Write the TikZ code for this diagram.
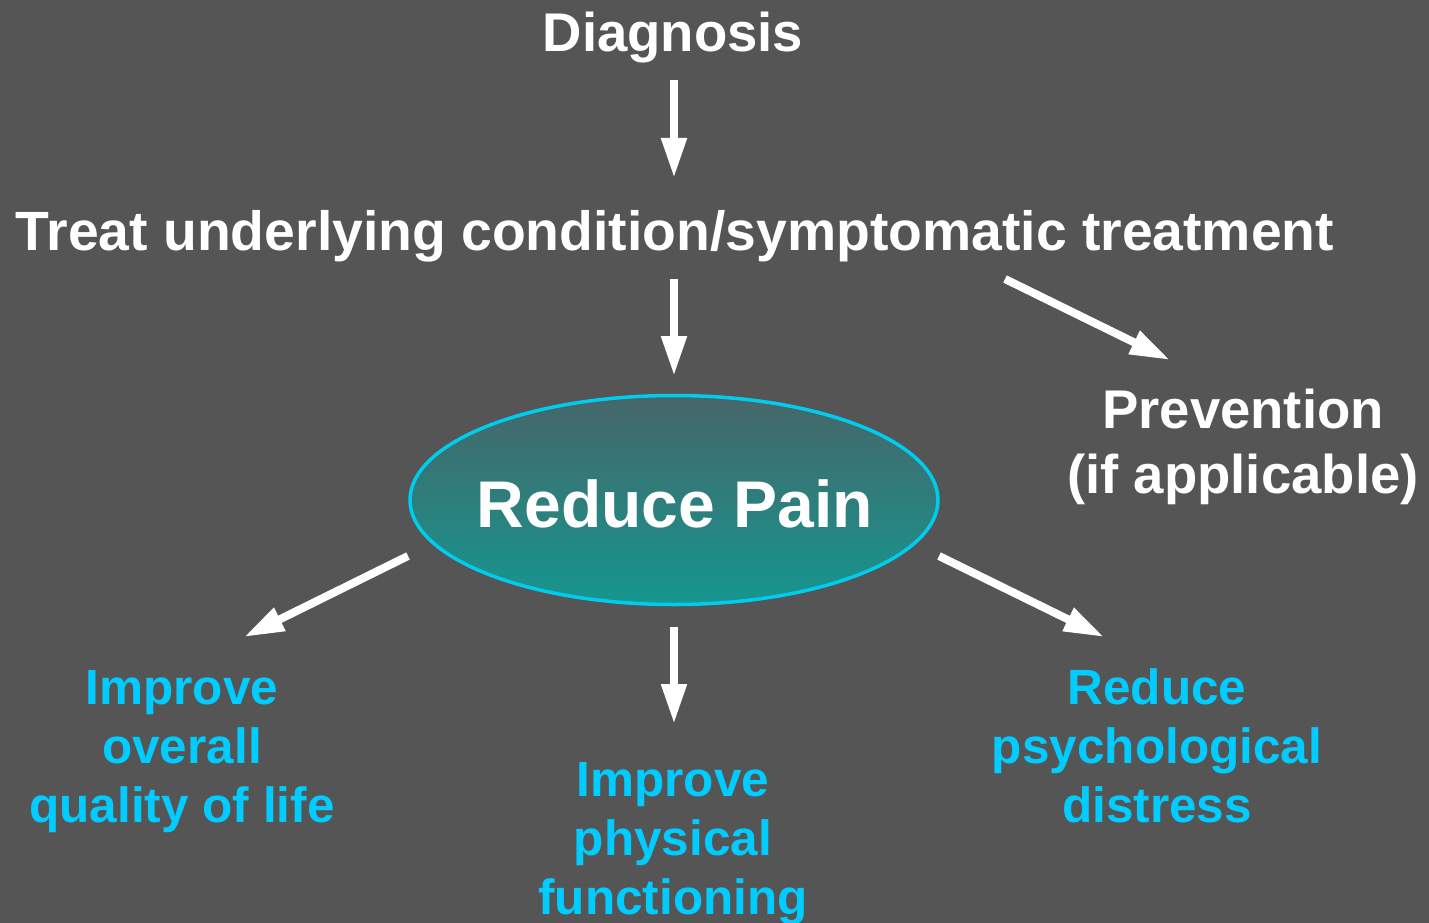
\documentclass[tikz,border=0pt]{standalone}
\usepackage{fontspec}
\setmainfont{Liberation Sans}
\usetikzlibrary{arrows.meta,shapes.geometric}
\definecolor{bg}{HTML}{555555}
\definecolor{cyanblue}{HTML}{00CCFF}
\definecolor{rimcol}{HTML}{00CCEE}
\definecolor{elltop}{HTML}{466669}
\definecolor{ellbot}{HTML}{16968F}
\tikzset{
  whitetext/.style={text=white, font=\fontsize{54.5}{65}\selectfont\bfseries, align=center, inner sep=0pt, anchor=base},
  bluetext/.style={text=cyanblue, font=\fontsize{49.5}{59}\selectfont\bfseries, align=center, inner sep=0pt, anchor=base},
  arr/.style={draw=white, line width=8pt, -{Triangle[width=24pt,length=40pt]}},
  painell/.style={ellipse, draw=rimcol, line width=3.5pt, top color=elltop, bottom color=ellbot,
    minimum width=528pt, minimum height=209pt, inner sep=0pt},
  paintxt/.style={text=white, font=\fontsize{66}{78}\selectfont\bfseries, inner sep=0pt, anchor=base}
}
\begin{document}
\begin{tikzpicture}[x=1pt,y=-1pt]
\fill[bg] (0,0) rectangle (1429,923);
\useasboundingbox (0,0) rectangle (1429,923);

\node[whitetext] (diag) at (673,52) {Diagnosis};
\node[whitetext, font=\fontsize{55.3}{65}\selectfont\bfseries] (treat) at (675,250) {Treat underlying condition/symptomatic treatment};
\node[whitetext] (prev) at (1243,493) {Prevention\\(if applicable)};
\node[painell] (pain) at (674,500) {};
\node[paintxt] (paintext) at (675,527) {Reduce Pain};
\node[bluetext] (qol) at (182,822) {Improve\\overall\\quality of life};
\node[bluetext] (phys) at (673,914) {Improve\\physical\\functioning};
\node[bluetext] (psych) at (1157,822) {Reduce\\psychological\\distress};

\coordinate (a1s) at (674,80);  \coordinate (a1e) at (674,178);
\coordinate (a2s) at (674,279); \coordinate (a2e) at (674,376);
\coordinate (a3s) at (1005,279); \coordinate (a3e) at (1170,360);
\coordinate (a4s) at (408,556); \coordinate (a4e) at (244,637);
\coordinate (a5s) at (674,627); \coordinate (a5e) at (674,724);
\coordinate (a6s) at (939,556); \coordinate (a6e) at (1104,637);

\draw[arr] (a1s) -- (a1e);
\draw[arr] (a2s) -- (a2e);
\draw[arr] (a3s) -- (a3e);
\draw[arr] (a4s) -- (a4e);
\draw[arr] (a5s) -- (a5e);
\draw[arr] (a6s) -- (a6e);
\end{tikzpicture}
\end{document}
